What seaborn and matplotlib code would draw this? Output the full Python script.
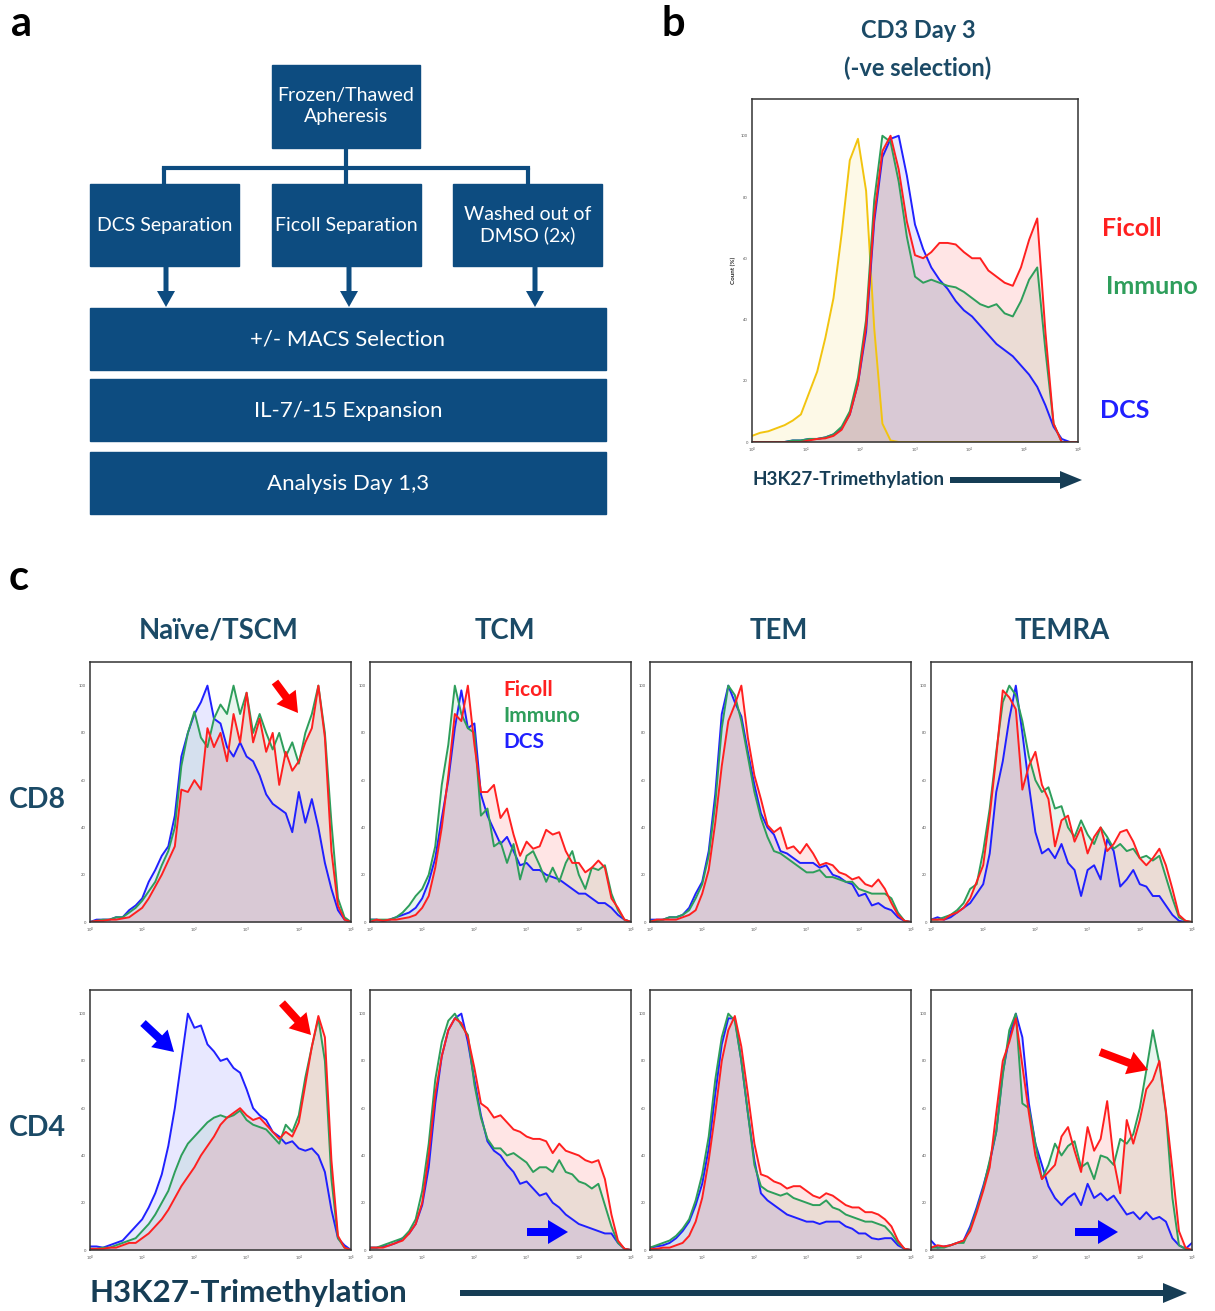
import numpy as np
import pandas as pd
import matplotlib
matplotlib.use("Agg")
import matplotlib.pyplot as plt
from matplotlib.patches import Rectangle, FancyArrow
import seaborn as sns

sns.set_theme(style="white")
plt.rcParams["font.family"] = ["Lato", "DejaVu Sans"]

# 41 channels along the (log) H3K27-Trimethylation axis, left to right
X_BINS = np.linspace(0, 1, 41)

# ---- panel b: CD3 day 3, normalised counts per channel ----
B_ISOTYPE = [0.02, 0.03, 0.035, 0.045, 0.055, 0.07, 0.09, 0.16, 0.23, 0.34,
             0.47, 0.68, 0.92, 0.99, 0.82, 0.37, 0.06, 0.005, 0, 0,
             0, 0, 0, 0, 0, 0, 0, 0, 0, 0,
             0, 0, 0, 0, 0, 0, 0, 0, 0, 0, 0]
B_IMMUNO = [0, 0, 0, 0, 0, 0.005, 0.005, 0.01, 0.01, 0.015,
            0.025, 0.05, 0.10, 0.21, 0.40, 0.79, 1.0, 0.98, 0.85, 0.67,
            0.54, 0.52, 0.53, 0.52, 0.51, 0.505, 0.49, 0.47, 0.45, 0.44,
            0.45, 0.42, 0.41, 0.46, 0.53, 0.57, 0.30, 0.06, 0, 0, 0]
B_FICOLL = [0, 0, 0, 0, 0, 0, 0, 0.005, 0.01, 0.012,
            0.02, 0.04, 0.09, 0.19, 0.38, 0.74, 0.95, 1.0, 0.89, 0.72,
            0.61, 0.60, 0.62, 0.65, 0.65, 0.645, 0.62, 0.60, 0.60, 0.56,
            0.54, 0.52, 0.51, 0.57, 0.66, 0.73, 0.36, 0.06, 0, 0, 0]
B_DCS = [0, 0, 0, 0, 0, 0.005, 0.005, 0.01, 0.01, 0.015,
         0.025, 0.045, 0.09, 0.19, 0.36, 0.72, 0.93, 0.99, 1.0, 0.87,
         0.71, 0.63, 0.57, 0.53, 0.50, 0.46, 0.43, 0.41, 0.38, 0.35,
         0.32, 0.30, 0.28, 0.25, 0.22, 0.18, 0.12, 0.05, 0.01, 0, 0]

# ---- panel c: CD8 ----
CD8_NAIVE_DCS = [0.0, 0.01, 0.01, 0.01, 0.02, 0.02, 0.05, 0.07, 0.10, 0.17,
                 0.22, 0.28, 0.32, 0.45, 0.70, 0.80, 0.88, 0.93, 1.0, 0.86,
                 0.84, 0.74, 0.70, 0.76, 0.70, 0.68, 0.62, 0.54, 0.50, 0.48,
                 0.46, 0.38, 0.55, 0.42, 0.52, 0.40, 0.25, 0.14, 0.05, 0.01, 0.0]
CD8_NAIVE_IMMUNO = [0.0, 0.005, 0.01, 0.01, 0.02, 0.02, 0.04, 0.06, 0.09, 0.13,
                    0.17, 0.24, 0.30, 0.40, 0.66, 0.80, 0.89, 0.78, 0.74, 0.86,
                    0.92, 0.88, 1.0, 0.88, 0.97, 0.80, 0.88, 0.80, 0.73, 0.80,
                    0.70, 0.76, 0.67, 0.80, 0.88, 1.0, 0.80, 0.42, 0.10, 0.02, 0.0]
CD8_NAIVE_FICOLL = [0.0, 0.005, 0.005, 0.01, 0.01, 0.015, 0.02, 0.04, 0.06, 0.10,
                    0.15, 0.20, 0.26, 0.32, 0.56, 0.55, 0.60, 0.56, 0.82, 0.74,
                    0.80, 0.68, 0.88, 0.76, 0.97, 0.76, 0.86, 0.72, 0.80, 0.58,
                    0.72, 0.64, 0.68, 0.76, 0.82, 1.0, 0.78, 0.30, 0.07, 0.01, 0.0]

CD8_TCM_DCS = [0.01, 0.01, 0.005, 0.01, 0.02, 0.03, 0.04, 0.06, 0.10, 0.17,
               0.27, 0.44, 0.60, 0.82, 0.98, 0.82, 0.84, 0.54, 0.45, 0.39,
               0.33, 0.36, 0.30, 0.24, 0.25, 0.22, 0.22, 0.20, 0.19, 0.18,
               0.16, 0.14, 0.12, 0.12, 0.10, 0.08, 0.08, 0.06, 0.03, 0.01, 0.0]
CD8_TCM_IMMUNO = [0.01, 0.01, 0.01, 0.01, 0.02, 0.04, 0.07, 0.11, 0.14, 0.20,
                  0.32, 0.58, 0.75, 1.0, 0.88, 0.82, 0.80, 0.45, 0.48, 0.32,
                  0.34, 0.25, 0.33, 0.18, 0.28, 0.30, 0.24, 0.17, 0.23, 0.17,
                  0.25, 0.30, 0.20, 0.14, 0.23, 0.22, 0.24, 0.12, 0.05, 0.01, 0.0]
CD8_TCM_FICOLL = [0.0, 0.01, 0.005, 0.01, 0.01, 0.015, 0.02, 0.03, 0.06, 0.11,
                  0.23, 0.40, 0.62, 0.88, 0.85, 1.0, 0.75, 0.55, 0.55, 0.58,
                  0.44, 0.48, 0.37, 0.28, 0.34, 0.31, 0.32, 0.39, 0.37, 0.38,
                  0.30, 0.25, 0.25, 0.21, 0.23, 0.26, 0.23, 0.10, 0.06, 0.01, 0.0]

CD8_TEM_DCS = [0.01, 0.01, 0.01, 0.02, 0.02, 0.03, 0.06, 0.12, 0.17, 0.30,
               0.54, 0.88, 1.0, 0.93, 0.87, 0.72, 0.58, 0.46, 0.40, 0.37,
               0.30, 0.29, 0.27, 0.25, 0.25, 0.25, 0.23, 0.24, 0.20, 0.19,
               0.17, 0.16, 0.11, 0.12, 0.07, 0.08, 0.06, 0.05, 0.02, 0.005, 0.0]
CD8_TEM_IMMUNO = [0.005, 0.005, 0.01, 0.02, 0.02, 0.03, 0.05, 0.10, 0.16, 0.28,
                  0.50, 0.82, 1.0, 0.96, 0.85, 0.70, 0.55, 0.44, 0.36, 0.30,
                  0.29, 0.27, 0.25, 0.23, 0.21, 0.21, 0.22, 0.19, 0.19, 0.18,
                  0.17, 0.17, 0.14, 0.13, 0.12, 0.12, 0.12, 0.10, 0.04, 0.005, 0.0]
CD8_TEM_FICOLL = [0.0, 0.01, 0.01, 0.01, 0.01, 0.02, 0.03, 0.05, 0.12, 0.22,
                  0.42, 0.66, 0.85, 0.92, 1.0, 0.78, 0.62, 0.52, 0.41, 0.38,
                  0.40, 0.31, 0.32, 0.29, 0.33, 0.29, 0.24, 0.25, 0.24, 0.21,
                  0.20, 0.18, 0.19, 0.16, 0.15, 0.18, 0.14, 0.08, 0.03, 0.005, 0.0]

CD8_TEMRA_DCS = [0.01, 0.02, 0.01, 0.02, 0.04, 0.06, 0.08, 0.12, 0.16, 0.29,
                 0.55, 0.68, 0.86, 1.0, 0.80, 0.58, 0.38, 0.29, 0.31, 0.27,
                 0.33, 0.25, 0.22, 0.11, 0.22, 0.24, 0.18, 0.35, 0.30, 0.15,
                 0.18, 0.22, 0.16, 0.15, 0.11, 0.11, 0.07, 0.03, 0.005, 0.0, 0.0]
CD8_TEMRA_IMMUNO = [0.01, 0.01, 0.02, 0.03, 0.05, 0.08, 0.14, 0.16, 0.30, 0.48,
                    0.72, 0.93, 1.0, 0.96, 0.85, 0.70, 0.60, 0.55, 0.57, 0.48,
                    0.49, 0.40, 0.36, 0.43, 0.37, 0.33, 0.40, 0.36, 0.31, 0.33,
                    0.30, 0.31, 0.27, 0.28, 0.26, 0.28, 0.19, 0.10, 0.02, 0.005, 0.0]
CD8_TEMRA_FICOLL = [0.01, 0.01, 0.01, 0.03, 0.04, 0.06, 0.10, 0.17, 0.24, 0.45,
                    0.70, 0.98, 0.95, 0.90, 0.56, 0.66, 0.72, 0.58, 0.52, 0.32,
                    0.43, 0.45, 0.34, 0.40, 0.29, 0.36, 0.40, 0.30, 0.33, 0.38,
                    0.39, 0.34, 0.27, 0.24, 0.27, 0.31, 0.24, 0.14, 0.03, 0.005, 0.0]

# ---- panel c: CD4 ----
CD4_NAIVE_DCS = [0.015, 0.015, 0.01, 0.02, 0.03, 0.04, 0.07, 0.10, 0.13, 0.18,
                 0.24, 0.32, 0.44, 0.60, 0.80, 1.0, 0.94, 0.95, 0.87, 0.84,
                 0.80, 0.81, 0.77, 0.75, 0.68, 0.60, 0.57, 0.55, 0.50, 0.48,
                 0.45, 0.46, 0.43, 0.42, 0.43, 0.40, 0.33, 0.17, 0.05, 0.02, 0.0]
CD4_NAIVE_IMMUNO = [0.005, 0.005, 0.01, 0.01, 0.02, 0.03, 0.04, 0.05, 0.08, 0.11,
                    0.15, 0.20, 0.25, 0.33, 0.40, 0.45, 0.48, 0.51, 0.54, 0.56,
                    0.57, 0.56, 0.57, 0.59, 0.55, 0.53, 0.52, 0.51, 0.48, 0.45,
                    0.53, 0.50, 0.57, 0.73, 0.86, 0.98, 0.80, 0.30, 0.05, 0.01, 0.0]
CD4_NAIVE_FICOLL = [0.005, 0.005, 0.005, 0.01, 0.01, 0.02, 0.03, 0.03, 0.05, 0.07,
                    0.10, 0.13, 0.17, 0.22, 0.27, 0.31, 0.35, 0.40, 0.44, 0.48,
                    0.53, 0.56, 0.58, 0.60, 0.57, 0.55, 0.56, 0.53, 0.50, 0.47,
                    0.50, 0.48, 0.54, 0.70, 0.86, 0.99, 0.90, 0.38, 0.06, 0.01, 0.0]

CD4_TCM_DCS = [0.01, 0.01, 0.015, 0.02, 0.03, 0.05, 0.07, 0.11, 0.19, 0.35,
               0.62, 0.82, 0.93, 0.98, 1.0, 0.88, 0.72, 0.57, 0.46, 0.42,
               0.40, 0.36, 0.33, 0.28, 0.29, 0.26, 0.23, 0.24, 0.20, 0.18,
               0.15, 0.13, 0.11, 0.10, 0.09, 0.08, 0.07, 0.07, 0.03, 0.005, 0.0]
CD4_TCM_IMMUNO = [0.01, 0.01, 0.02, 0.03, 0.04, 0.05, 0.08, 0.13, 0.25, 0.45,
                  0.72, 0.88, 0.97, 1.0, 0.95, 0.91, 0.70, 0.56, 0.47, 0.43,
                  0.43, 0.40, 0.41, 0.39, 0.37, 0.33, 0.35, 0.35, 0.33, 0.38,
                  0.33, 0.32, 0.29, 0.28, 0.26, 0.28, 0.19, 0.10, 0.03, 0.005, 0.0]
CD4_TCM_FICOLL = [0.01, 0.01, 0.01, 0.02, 0.03, 0.04, 0.07, 0.11, 0.20, 0.40,
                  0.66, 0.82, 0.93, 0.98, 0.96, 0.90, 0.77, 0.62, 0.60, 0.56,
                  0.57, 0.54, 0.51, 0.50, 0.48, 0.47, 0.47, 0.46, 0.41, 0.45,
                  0.42, 0.41, 0.40, 0.38, 0.37, 0.38, 0.30, 0.15, 0.04, 0.005, 0.0]

CD4_TEM_DCS = [0.01, 0.015, 0.02, 0.03, 0.05, 0.08, 0.12, 0.19, 0.28, 0.43,
               0.66, 0.87, 0.98, 0.98, 0.80, 0.58, 0.38, 0.24, 0.21, 0.19,
               0.17, 0.15, 0.14, 0.13, 0.12, 0.12, 0.11, 0.12, 0.12, 0.12,
               0.10, 0.09, 0.07, 0.07, 0.05, 0.045, 0.05, 0.05, 0.02, 0.005, 0.0]
CD4_TEM_IMMUNO = [0.01, 0.02, 0.03, 0.04, 0.06, 0.09, 0.13, 0.21, 0.32, 0.48,
                  0.72, 0.90, 1.0, 0.97, 0.80, 0.58, 0.36, 0.27, 0.25, 0.24,
                  0.23, 0.24, 0.22, 0.21, 0.20, 0.19, 0.19, 0.21, 0.18, 0.17,
                  0.15, 0.14, 0.13, 0.12, 0.12, 0.11, 0.10, 0.07, 0.03, 0.005, 0.0]
CD4_TEM_FICOLL = [0.005, 0.005, 0.01, 0.01, 0.02, 0.03, 0.06, 0.12, 0.22, 0.38,
                  0.58, 0.80, 0.93, 0.99, 0.86, 0.66, 0.45, 0.32, 0.31, 0.29,
                  0.28, 0.26, 0.27, 0.27, 0.25, 0.23, 0.22, 0.24, 0.23, 0.21,
                  0.19, 0.18, 0.18, 0.16, 0.16, 0.15, 0.13, 0.10, 0.04, 0.005, 0.0]

CD4_TEMRA_DCS = [0.04, 0.01, 0.015, 0.02, 0.03, 0.04, 0.10, 0.18, 0.27, 0.37,
                 0.50, 0.75, 0.90, 1.0, 0.90, 0.62, 0.45, 0.36, 0.27, 0.22,
                 0.19, 0.22, 0.24, 0.19, 0.28, 0.22, 0.24, 0.21, 0.23, 0.19,
                 0.15, 0.16, 0.13, 0.16, 0.13, 0.14, 0.12, 0.05, 0.02, 0.005, 0.03]
CD4_TEMRA_IMMUNO = [0.01, 0.01, 0.01, 0.02, 0.03, 0.03, 0.09, 0.17, 0.26, 0.38,
                    0.50, 0.74, 0.93, 1.0, 0.62, 0.60, 0.45, 0.30, 0.36, 0.45,
                    0.40, 0.44, 0.46, 0.35, 0.37, 0.30, 0.40, 0.39, 0.36, 0.47,
                    0.45, 0.49, 0.60, 0.76, 0.93, 0.79, 0.58, 0.22, 0.02, 0.005, 0.0]
CD4_TEMRA_FICOLL = [0.01, 0.02, 0.015, 0.02, 0.03, 0.04, 0.08, 0.16, 0.25, 0.35,
                    0.58, 0.80, 0.88, 0.98, 0.78, 0.58, 0.40, 0.30, 0.33, 0.36,
                    0.48, 0.52, 0.42, 0.33, 0.52, 0.42, 0.47, 0.63, 0.38, 0.24,
                    0.55, 0.45, 0.55, 0.68, 0.72, 0.80, 0.59, 0.34, 0.08, 0.01, 0.0]

SUBSETS = ["Naïve/TSCM", "TCM", "TEM", "TEMRA"]
ROWS = ["CD8", "CD4"]
C_DATA = [
    [[("DCS", CD8_NAIVE_DCS), ("Immuno", CD8_NAIVE_IMMUNO), ("Ficoll", CD8_NAIVE_FICOLL)],
     [("DCS", CD8_TCM_DCS), ("Immuno", CD8_TCM_IMMUNO), ("Ficoll", CD8_TCM_FICOLL)],
     [("DCS", CD8_TEM_DCS), ("Immuno", CD8_TEM_IMMUNO), ("Ficoll", CD8_TEM_FICOLL)],
     [("DCS", CD8_TEMRA_DCS), ("Immuno", CD8_TEMRA_IMMUNO), ("Ficoll", CD8_TEMRA_FICOLL)]],
    [[("DCS", CD4_NAIVE_DCS), ("Immuno", CD4_NAIVE_IMMUNO), ("Ficoll", CD4_NAIVE_FICOLL)],
     [("DCS", CD4_TCM_DCS), ("Immuno", CD4_TCM_IMMUNO), ("Ficoll", CD4_TCM_FICOLL)],
     [("DCS", CD4_TEM_DCS), ("Immuno", CD4_TEM_IMMUNO), ("Ficoll", CD4_TEM_FICOLL)],
     [("DCS", CD4_TEMRA_DCS), ("Immuno", CD4_TEMRA_IMMUNO), ("Ficoll", CD4_TEMRA_FICOLL)]],
]

LINE = {"Isotype": "#f2c40f", "DCS": "#2020ff", "Immuno": "#2e9e5b", "Ficoll": "#ff2020"}
FILL = {"Isotype": "#f5c518", "DCS": "#1e1eff", "Immuno": "#2e9e5b", "Ficoll": "#ff0000"}
NAVY = "#0d4c80"
TEAL = "#1b4a66"
DARK = "#163d55"

W, H = 1215, 1311
fig = plt.figure(figsize=(W / 100, H / 100), dpi=100)


def px_axes(left, top, w, h):
    return fig.add_axes([left / W, 1 - (top + h) / H, w / W, h / H])


def hist_panel(ax, curves, n_ticks, ymax):
    frames = []
    for name, vals in curves:
        ax.fill_between(X_BINS, vals, 0, color=FILL[name], alpha=0.1, lw=0)
        frames.append(pd.DataFrame({"x": X_BINS, "count": vals, "sample": name}))
    df = pd.concat(frames, ignore_index=True)
    sns.lineplot(data=df, x="x", y="count", hue="sample", palette=LINE,
                 hue_order=[n for n, _ in curves], estimator=None, sort=False,
                 lw=1.4, legend=False, ax=ax)
    ax.set_xlim(0, 1)
    ax.set_ylim(0, ymax)
    ax.set_xlabel("")
    ax.set_ylabel("")
    ax.set_xticks(np.linspace(0, 1, n_ticks))
    ax.set_xticklabels(["10$^%d$" % i for i in range(n_ticks)])
    ax.set_yticks(np.linspace(0, 1, 6))
    ax.set_yticklabels(["%d" % v for v in range(0, 101, 20)])
    ax.tick_params(length=2, width=0.6, labelsize=3, colors="#555555", pad=1)
    for sp in ax.spines.values():
        sp.set_visible(True)
        sp.set_color("#333333")
        sp.set_linewidth(1.1)


# panel b
ax_b = px_axes(752, 99, 326, 343)
hist_panel(ax_b, [("Isotype", B_ISOTYPE), ("DCS", B_DCS), ("Immuno", B_IMMUNO), ("Ficoll", B_FICOLL)], 7, 1.12)
ax_b.set_ylabel("Count (%)", fontsize=4.5, fontweight="bold", labelpad=3)

# panel c
C_LEFTS = [90, 370, 650, 931]
C_TOPS = [662, 990]
for r, top in enumerate(C_TOPS):
    for c, left in enumerate(C_LEFTS):
        ax = px_axes(left, top, 261, 260)
        hist_panel(ax, C_DATA[r][c], 6, 1.1)

# overlay in pixel coordinates for the flowchart, labels and arrows
ov = fig.add_axes([0, 0, 1, 1], zorder=10)
ov.set_xlim(0, W)
ov.set_ylim(H, 0)
ov.axis("off")
ov.patch.set_alpha(0)

for letter, (lx, ly) in zip("abc", [(22, 24), (673, 24), (19, 578)]):
    ov.text(lx, ly, letter, ha="center", va="center", fontsize=30, fontweight="bold", color="black")

# panel a flowchart
box_font = dict(color="white", fontsize=14, ha="center", va="center", linespacing=1.25)
ov.add_patch(Rectangle((272, 65), 148, 83, color=NAVY))
ov.text(346, 106, "Frozen/Thawed\nApheresis", **box_font)
ov.plot([346, 346], [148, 168], color=NAVY, lw=3)
ov.plot([164, 528], [168, 168], color=NAVY, lw=3, solid_capstyle="projecting")
for cx in [164, 346, 528]:
    ov.plot([cx, cx], [168, 184], color=NAVY, lw=3)
for bx, label in zip([90, 272, 453], ["DCS Separation", "Ficoll Separation", "Washed out of\nDMSO (2x)"]):
    ov.add_patch(Rectangle((bx, 184), 149, 82, color=NAVY))
    ov.text(bx + 74.5, 225, label, **box_font)
for ax_x in [166, 349, 535]:
    ov.add_patch(FancyArrow(ax_x, 266, 0, 41, width=5, head_width=18, head_length=16,
                            length_includes_head=True, color=NAVY, lw=0))
wide_font = dict(box_font, fontsize=16)
for by, label in zip([308, 379, 452], ["+/- MACS Selection", "IL-7/-15 Expansion", "Analysis Day 1,3"]):
    ov.add_patch(Rectangle((90, by), 516, 62, color=NAVY))
    ov.text(348, by + 32, label, **wide_font)

# panel b labels
ov.text(918, 30, "CD3 Day 3", ha="center", va="center", fontsize=17, fontweight="bold", color=TEAL)
ov.text(918, 68, "(-ve selection)", ha="center", va="center", fontsize=17, fontweight="bold", color=TEAL)
ov.text(1132, 228, "Ficoll", ha="center", va="center", fontsize=18, fontweight="bold", color=LINE["Ficoll"])
ov.text(1152, 286, "Immuno", ha="center", va="center", fontsize=18, fontweight="bold", color=LINE["Immuno"])
ov.text(1125, 410, "DCS", ha="center", va="center", fontsize=18, fontweight="bold", color=LINE["DCS"])
ov.text(752, 480, "H3K27-Trimethylation", ha="left", va="center", fontsize=13.6, fontweight="bold", color=DARK)
ov.add_patch(FancyArrow(950, 480, 132, 0, width=6, head_width=18, head_length=22,
                        length_includes_head=True, color=DARK, lw=0))

# panel c labels
for cx, name in zip([219, 505, 779, 1062], SUBSETS):
    ov.text(cx, 631, name, ha="center", va="center", fontsize=19.8, fontweight="bold", color=TEAL)
for cy, name in zip([800, 1128], ROWS):
    ov.text(37, cy, name, ha="center", va="center", fontsize=20.5, fontweight="bold", color=TEAL)
for ly, name in zip([690, 716, 742], ["Ficoll", "Immuno", "DCS"]):
    ov.text(503, ly, name, ha="left", va="center", fontsize=15, fontweight="bold", color=LINE[name])
ov.text(90, 1293, "H3K27-Trimethylation", ha="left", va="center", fontsize=22.5, fontweight="bold", color=DARK)
ov.add_patch(FancyArrow(460, 1293, 727, 0, width=6, head_width=20, head_length=24,
                        length_includes_head=True, color=DARK, lw=0))

# highlight arrows inside panel c
HIGHLIGHTS = [((275, 682), (298, 713), "#ff0000"),
              ((143, 1023), (174, 1052), "#0000ff"),
              ((282, 1003), (311, 1035), "#ff0000"),
              ((527, 1232), (568, 1232), "#0000ff"),
              ((1100, 1052), (1148, 1070), "#ff0000"),
              ((1075, 1232), (1118, 1232), "#0000ff")]
for (x0, y0), (x1, y1), col in HIGHLIGHTS:
    ov.add_patch(FancyArrow(x0, y0, x1 - x0, y1 - y0, width=8, head_width=24, head_length=20,
                            length_includes_head=True, color=col, lw=0))

fig.savefig("out.png", dpi=100, facecolor="white")
